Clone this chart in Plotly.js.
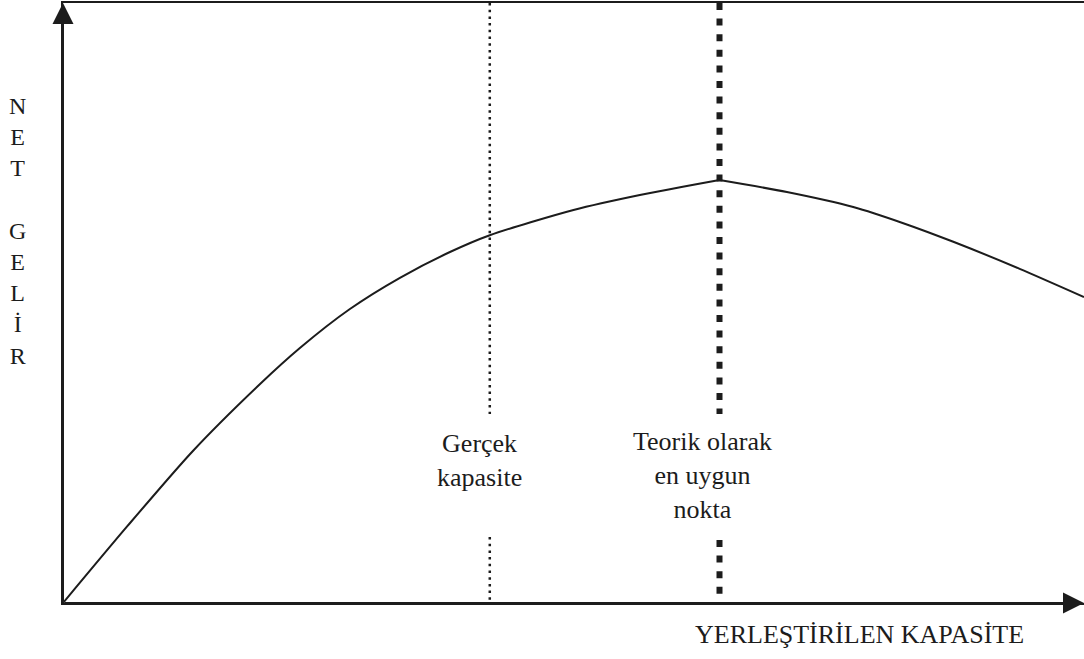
<!DOCTYPE html>
<html>
<head>
<meta charset="utf-8">
<script src="https://cdn.plot.ly/plotly-3.0.1.min.js"></script>
<style>html,body{margin:0;padding:0;background:#fff;}#chart{width:1084px;height:659px;}</style>
</head>
<body>
<div id="chart"></div>
<script>
// Placed capacity (x) and net income (y), arbitrary units 0-100
const capacity  = [0, 6.3, 12.7, 19.3, 23.2, 28.1, 33.0, 37.9, 41.8, 50.0, 56.5, 64.3, 70.9, 77.4, 82.3, 87.2, 93.7, 100];
const netIncome = [0, 12.8, 25.3, 36.5, 42.5, 49.0, 54.2, 58.5, 61.3, 65.5, 68.0, 70.5, 68.5, 66.0, 63.3, 60.2, 55.7, 51.0];
const peakIndex = 11;

// Reference capacities
const actualCapacity = 41.8;
const optimumCapacity = 64.3;
const markerLabels = ["Gerçek<br>kapasite", "Teorik olarak<br>en uygun<br>nokta"];
const xAxisTitle = "YERLEŞTİRİLEN KAPASİTE";
const yAxisTitle = ["N","E","T","\u00a0","G","E","L","İ","R"];

const ink = '#1c1c1c';
const serif = 'Liberation Serif, Times New Roman, serif';

function vsegs(x, gapTop, gapBottom) {
  return {x: [x, x, null, x, x], y: [100, gapTop, null, gapBottom, 0]};
}
const s1 = vsegs(actualCapacity, 31.5, 11);
const s2 = vsegs(optimumCapacity, 31.5, 10.5);

const traces = [
  {x: s1.x, y: s1.y, mode: 'lines', line: {color: ink, width: 2.5, dash: '2.5px,4.2px'}, hoverinfo: 'skip', connectgaps: false},
  {x: s2.x, y: s2.y, mode: 'lines', line: {color: ink, width: 6, dash: '7px,8.6px'}, hoverinfo: 'skip', connectgaps: false},
  {x: capacity.slice(0, peakIndex + 1), y: netIncome.slice(0, peakIndex + 1), mode: 'lines',
   line: {color: ink, width: 2, shape: 'spline', smoothing: 0.7}, hoverinfo: 'skip'},
  {x: capacity.slice(peakIndex), y: netIncome.slice(peakIndex), mode: 'lines',
   line: {color: ink, width: 2, shape: 'spline', smoothing: 0.7}, hoverinfo: 'skip'}
];

const layout = {
  width: 1084, height: 659,
  margin: {l: 63, r: 0, t: 3, b: 56, pad: 0},
  paper_bgcolor: '#fff', plot_bgcolor: '#fff',
  showlegend: false,
  xaxis: {range: [0, 100], showgrid: false, zeroline: false, showticklabels: false, ticks: '',
          showline: true, mirror: true, linecolor: ink, linewidth: 2, fixedrange: true},
  yaxis: {range: [0, 100], showgrid: false, zeroline: false, showticklabels: false, ticks: '',
          showline: true, mirror: false, linecolor: ink, linewidth: 2, fixedrange: true},
  annotations: [
    {x: 0, y: 100, ax: 0, ay: 0, axref: 'x', ayref: 'y', xref: 'x', yref: 'y', text: '',
     showarrow: true, arrowhead: 2, arrowsize: 2.1, arrowwidth: 2, arrowcolor: ink},
    {x: 100, y: 0, ax: 0, ay: 0, axref: 'x', ayref: 'y', xref: 'x', yref: 'y', text: '',
     showarrow: true, arrowhead: 2, arrowsize: 2.1, arrowwidth: 2, arrowcolor: ink},
    {x: 40.8, y: 23.8, xref: 'x', yref: 'y', text: markerLabels[0], showarrow: false,
     font: {family: serif, size: 26, color: ink}, align: 'center'},
    {x: 62.6, y: 21.2, xref: 'x', yref: 'y', text: markerLabels[1], showarrow: false,
     font: {family: serif, size: 26, color: ink}, align: 'center'},
    {x: 0.78, y: -0.053, xref: 'paper', yref: 'paper', xanchor: 'center', yanchor: 'middle',
     text: xAxisTitle, showarrow: false, font: {family: serif, size: 26, color: ink}},
    {x: -0.045, y: 0.62, xref: 'paper', yref: 'paper', xanchor: 'center', yanchor: 'middle',
     text: yAxisTitle.join('<br>'), showarrow: false,
     font: {family: serif, size: 24, color: ink}, align: 'center'}
  ]
};

Plotly.newPlot('chart', traces, layout, {displayModeBar: false, staticPlot: true});
</script>
</body>
</html>
